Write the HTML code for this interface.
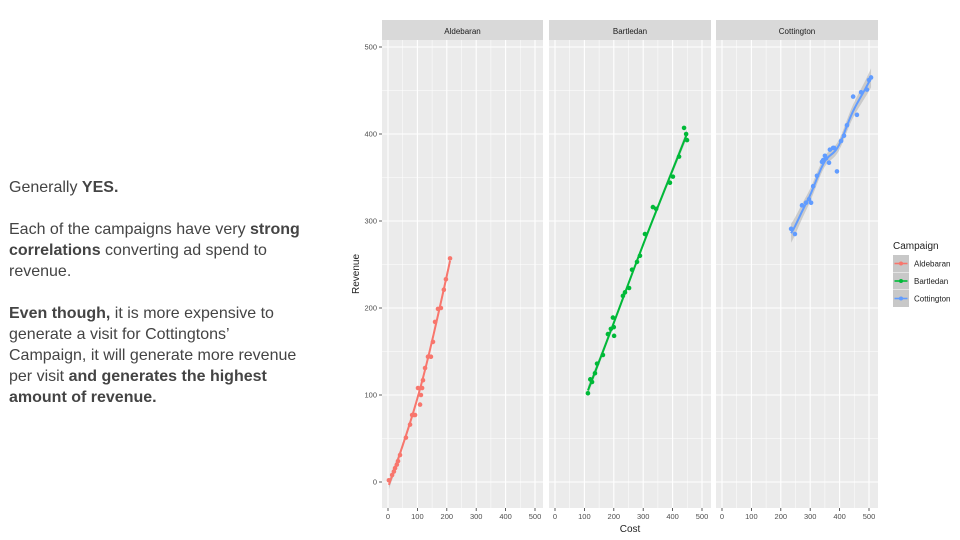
<!DOCTYPE html>
<html><head><meta charset="utf-8">
<style>
body{margin:0;width:960px;height:540px;background:#fff;overflow:hidden;position:relative;font-family:"Liberation Sans",sans-serif}
#txt{position:absolute;left:9px;top:177px;width:330px;font-size:16px;line-height:21px;color:#444;white-space:nowrap}
#txt p{margin:0 0 21px 0}
svg{position:absolute;left:0;top:0}
</style></head><body>
<div id="txt">
<p>Generally <b>YES.</b></p>
<p>Each of the campaigns have very <b>strong</b><br><b>correlations</b> converting ad spend to<br>revenue.</p>
<p><b>Even though,</b> it is more expensive to<br>generate a visit for Cottingtons’<br>Campaign, it will generate more revenue<br>per visit <b>and generates the highest</b><br><b>amount of revenue.</b></p>
</div>
<svg id="chart" width="960" height="540"></svg>
<script>
const campaigns=["Aldebaran","Bartledan","Cottington"];
const colors=["#F8766D","#00BA38","#619CFF"];
const xTicks=[0,100,200,300,400,500];
const yTicks=[0,100,200,300,400,500];
const aldCost=[3,14,24,34,41,61,75,82,92,102,109,112,119,126,136,146,153,160,170,180,190,197,211,20,30,88,116];
const aldRev=[2,8,16,24,31,51,66,77,77,108,89,100,117,131,144,144,161,184,199,200,221,233,257,12,20,77,108];
const barCost=[112,126,136,143,163,180,190,197,201,231,238,252,262,279,289,306,333,344,391,401,422,439,446,449,120,200];
const barRev=[102,115,125,136,146,170,176,189,168,214,218,223,244,253,260,285,316,314,344,351,374,407,400,393,118,178];
const cotCost=[235,248,272,286,296,303,310,323,344,354,364,367,381,391,405,415,425,446,459,473,493,500,507,350,378,340];
const cotRev=[291,285,318,321,325,321,340,352,370,372,367,382,384,357,392,398,410,443,422,448,451,462,465,375,384,368];
const costs=[aldCost,barCost,cotCost], revs=[aldRev,barRev,cotRev];
const panelX=[[382,543],[549,711],[716,878]];
const plotTop=40, plotBot=508;
const NS="http://www.w3.org/2000/svg";
const svg=document.getElementById('chart');
function mk(t,a,p){const e=document.createElementNS(NS,t);for(const k in a)e.setAttribute(k,a[k]);(p||svg).appendChild(e);return e;}
function yS(v){return 482-v*0.87;}
function xS(p,v){return panelX[p][0]+6+v*0.294;}
function fit(xs,ys,x0,bw){let sw=0,sx=0,sy=0,sxx=0,sxy=0;for(let i=0;i<xs.length;i++){const w=Math.exp(-Math.pow((xs[i]-x0)/bw,2)/2);sw+=w;sx+=w*xs[i];sy+=w*ys[i];sxx+=w*xs[i]*xs[i];sxy+=w*xs[i]*ys[i];}
const mx=sx/sw,my=sy/sw,vx=sxx/sw-mx*mx;const b=vx>1e-9?(sxy/sw-mx*my)/vx:0;return my+b*(x0-mx);}
const bws=[45,70,22];
for(let p=0;p<3;p++){
  const g=mk('g',{});
  
  
  const x0=panelX[p][0],x1=panelX[p][1];
  const strip=mk('rect',{x:x0,y:20,width:x1-x0,height:20,fill:'#D9D9D9'},g);
  
  
  const st=mk('text',{x:(x0+x1)/2,y:34,'text-anchor':'middle','font-size':8,fill:'#1a1a1a'},g);st.textContent=campaigns[p];
  
  
  mk('rect',{x:x0,y:plotTop,width:x1-x0,height:plotBot-plotTop,fill:'#EBEBEB'},g);
  for(let i=0;i<yTicks.length;i++){mk('line',{x1:x0,x2:x1,y1:yS(yTicks[i]),y2:yS(yTicks[i]),stroke:'#fff','stroke-width':1.1},g);
    if(i<yTicks.length-1)mk('line',{x1:x0,x2:x1,y1:yS(yTicks[i]+50),y2:yS(yTicks[i]+50),stroke:'#fff','stroke-width':0.5},g);}
  mk('line',{x1:x0,x2:x1,y1:yS(-50),y2:yS(-50),stroke:'#fff','stroke-width':0.5},g);
  for(let i=0;i<xTicks.length;i++){mk('line',{x1:xS(p,xTicks[i]),x2:xS(p,xTicks[i]),y1:plotTop,y2:plotBot,stroke:'#fff','stroke-width':1.1},g);
    if(i<xTicks.length-1)mk('line',{x1:xS(p,xTicks[i]+50),x2:xS(p,xTicks[i]+50),y1:plotTop,y2:plotBot,stroke:'#fff','stroke-width':0.5},g);
    mk('line',{x1:xS(p,xTicks[i]),x2:xS(p,xTicks[i]),y1:plotBot,y2:plotBot+3,stroke:'#333','stroke-width':0.8},g);
    const t=mk('text',{x:xS(p,xTicks[i]),y:plotBot+11,'text-anchor':'middle','font-size':7.5,fill:'#4d4d4d'},g);t.textContent=xTicks[i];
    
    }
  const xs=costs[p],ys=revs[p];
  const mn=Math.min(...xs),mxv=Math.max(...xs);
  const pts=[],up=[],lo=[];
  for(let k=0;k<=40;k++){const xv=mn+(mxv-mn)*k/40;const yv=fit(xs,ys,xv,bws[p]);pts.push([xS(p,xv),yS(yv)]);
    const se=(p==2?6:3)+ (p==2?5:2)*Math.pow(Math.abs(k-20)/20,2);up.push([xS(p,xv),yS(yv+se)]);lo.push([xS(p,xv),yS(yv-se)]);}
  const band=mk('polygon',{points:up.concat(lo.reverse()).map(q=>q.join(',')).join(' '),fill:'#999','fill-opacity':0.4},g);
  
  
  for(let i=0;i<xs.length;i++){const c=mk('circle',{cx:xS(p,xs[i]),cy:yS(ys[i]),r:2.3,fill:colors[p]},g);
    
    }
  const ln=mk('polyline',{points:pts.map(q=>q.join(',')).join(' '),fill:'none',stroke:colors[p],'stroke-width':2,'stroke-linejoin':'round'},g);
  
  
}
for(const v of yTicks){mk('line',{x1:379,x2:382,y1:yS(v),y2:yS(v),stroke:'#333','stroke-width':0.8});
  const t=mk('text',{x:377,y:yS(v)+2.5,'text-anchor':'end','font-size':7.5,fill:'#4d4d4d'});t.textContent=v;
  
  }
const xt=mk('text',{x:630,y:532,'text-anchor':'middle','font-size':10,fill:'#222'});xt.textContent='Cost';


const yt=mk('text',{x:359,y:274,'text-anchor':'middle','font-size':10,fill:'#222',transform:'rotate(-90 359 274)'});yt.textContent='Revenue';


const lg=mk('g',{});


const lt=mk('text',{x:893,y:249,'font-size':10,fill:'#222'},lg);lt.textContent='Campaign';
for(let i=0;i<3;i++){const y=255+i*17.5;
  const e=mk('g',{},lg);
  
  
  mk('rect',{x:893,y:y,width:16,height:17,fill:'#C8C8C8'},e);
  mk('line',{x1:894.5,x2:907.5,y1:y+8.5,y2:y+8.5,stroke:colors[i],'stroke-width':1.6},e);
  mk('circle',{cx:901,cy:y+8.5,r:2,fill:colors[i]},e);
  const t=mk('text',{x:914,y:y+11.5,'font-size':8,fill:'#222'},e);t.textContent=campaigns[i];}
</script>
</body></html>
